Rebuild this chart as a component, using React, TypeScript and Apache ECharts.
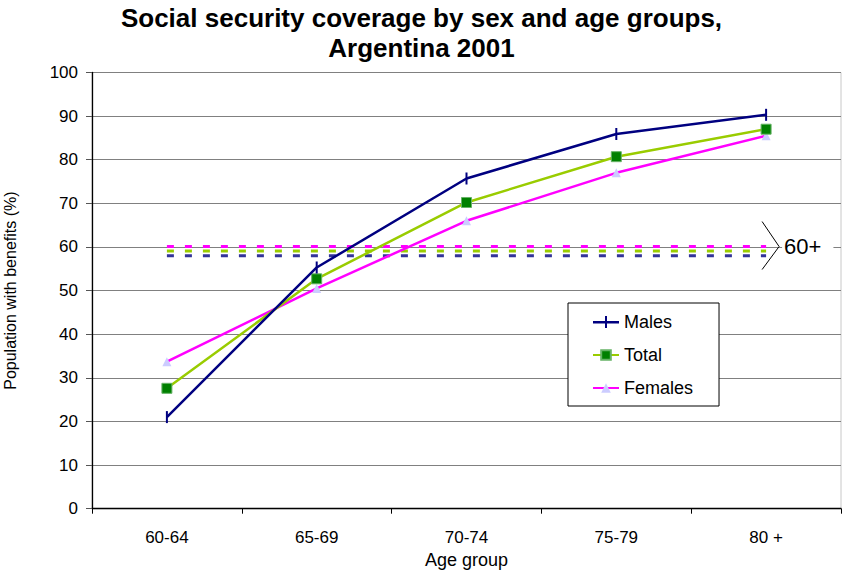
import React, { useEffect, useRef } from "react";
import * as echarts from "echarts";

const ageGroups = ["60-64", "65-69", "70-74", "75-79", "80 +"];
const males = [21.0, 55.3, 75.7, 85.9, 90.3];
const total = [27.6, 52.7, 70.2, 80.7, 87.0];
const females = [33.7, 50.5, 66.0, 77.0, 85.5];

// Coverage for the whole 60+ population, drawn as dashed reference levels
const females60 = 60.1;
const total60 = 59.1;
const males60 = 58.0;
const label60 = "60+";

const FONT = "'Liberation Sans', Arial, sans-serif";
// Legend key for Males: line with a cross marker
const PLUS_KEY =
  "path://M0,5L12,5L12,0L14,0L14,5L26,5L26,7.5L14,7.5L14,12L12,12L12,7.5L0,7.5Z";

const flat = (v: number) => ageGroups.map(() => v);

export default function App() {
  const ref = useRef<HTMLDivElement>(null);

  useEffect(() => {
    if (!ref.current) return;
    const chart = echarts.init(ref.current, undefined, { renderer: "svg" });

    const dashed = (name: string, v: number, color: string) => ({
      name,
      type: "line",
      data: flat(v),
      symbol: "none",
      silent: true,
      z: 1,
      lineStyle: { color, width: 3, type: [7, 11] },
    });

    chart.setOption({
      animation: false,
      backgroundColor: "#fff",
      textStyle: { fontFamily: FONT },
      title: {
        text: "Social security coverage by sex and age groups,\nArgentina 2001",
        left: "center",
        top: 0,
        padding: [3, 19, 4, 4],
        textStyle: {
          fontFamily: FONT,
          fontSize: 26,
          fontWeight: "bold",
          color: "#000",
          lineHeight: 30,
        },
      },
      grid: {
        left: 92,
        right: 2,
        top: 72.5,
        bottom: 61.3,
        outerBoundsMode: "none",
        containLabel: false,
        show: true,
        borderColor: "#c8c8c8",
        borderWidth: 1,
      },
      legend: {
        orient: "vertical",
        left: 568,
        top: 303,
        data: [{ name: "Males", icon: PLUS_KEY }, "Total", "Females"],
        backgroundColor: "#fff",
        borderColor: "#000",
        borderWidth: 1,
        padding: [10, 26, 9, 24],
        itemGap: 15,
        itemWidth: 26,
        itemHeight: 12,
        textStyle: { fontFamily: FONT, fontSize: 18, color: "#000" },
      },
      xAxis: {
        type: "category",
        data: ageGroups,
        boundaryGap: true,
        name: "Age group",
        nameLocation: "middle",
        nameGap: 42,
        nameTextStyle: { fontFamily: FONT, fontSize: 18, color: "#000" },
        axisLine: { lineStyle: { color: "#000", width: 1.3 } },
        axisTick: { show: true, length: 5, lineStyle: { color: "#000" } },
        axisLabel: { fontFamily: FONT, fontSize: 17, color: "#000", margin: 20 },
      },
      yAxis: {
        type: "value",
        min: 0,
        max: 100,
        interval: 10,
        name: "Population with benefits (%)",
        nameLocation: "middle",
        nameGap: 74,
        nameTextStyle: { fontFamily: FONT, fontSize: 16, color: "#000" },
        axisLine: { show: true, lineStyle: { color: "#000", width: 1.3 } },
        axisTick: { show: true, length: 6, lineStyle: { color: "#555" } },
        axisLabel: { fontFamily: FONT, fontSize: 17, color: "#000", margin: 14 },
        splitLine: { show: true, lineStyle: { color: "#808080", width: 1.2 } },
      },
      series: [
        dashed("Females 60+", females60, "#ff00ff"),
        dashed("Total 60+", total60, "#99cc00"),
        dashed("Males 60+", males60, "#333399"),
        {
          name: "Males",
          type: "line",
          data: males,
          z: 5,
          symbol: "path://M0,0L2,0L2,12L0,12Z",
          symbolSize: [2, 12],
          lineStyle: { color: "#000080", width: 2.5 },
          itemStyle: { color: "#000080" },
        },
        {
          name: "Total",
          type: "line",
          data: total,
          z: 4,
          symbol: "rect",
          symbolSize: 10,
          lineStyle: { color: "#99cc00", width: 2.5 },
          itemStyle: { color: "#008000", borderColor: "#66b366", borderWidth: 1 },
        },
        {
          name: "Females",
          type: "line",
          data: females,
          z: 3,
          symbol: "triangle",
          symbolSize: 9,
          lineStyle: { color: "#ff00ff", width: 2.5 },
          itemStyle: { color: "#ccccff" },
        },
      ],
    });

    // Bracket and label at the right end of the 60+ levels
    const tip = chart.convertToPixel({ gridIndex: 0 }, [ageGroups.length - 1, females60]) as number[];
    if (tip) {
      const x0 = tip[0] - 4;
      const y0 = tip[1];
      chart.setOption({
        graphic: [
          {
            type: "polyline",
            z: 10,
            shape: { points: [[x0, y0 - 25], [x0 + 17, y0], [x0, y0 + 23]] },
            style: { stroke: "#000", lineWidth: 1, fill: null },
          },
          {
            type: "text",
            z: 10,
            x: x0 + 20,
            y: y0,
            style: {
              text: label60,
              fontFamily: FONT,
              fontSize: 22,
              fill: "#000",
              backgroundColor: "#fff",
              padding: [2, 12, 2, 2],
              verticalAlign: "middle",
              align: "left",
            },
          },
        ],
      });
    }

    return () => chart.dispose();
  }, []);

  return (
    <div
      ref={ref}
      style={{ position: "fixed", left: 0, top: 0, width: 843, height: 570 }}
    />
  );
}
